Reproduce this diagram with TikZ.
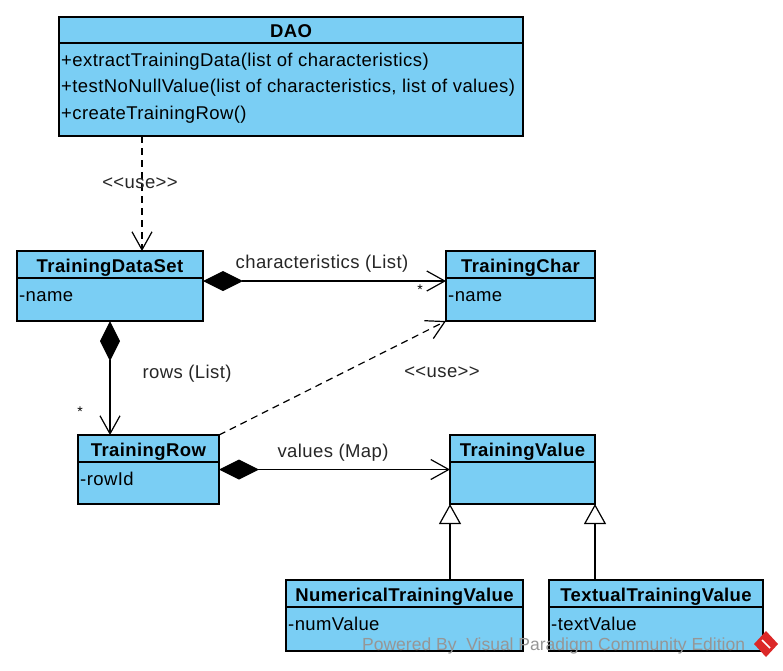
\documentclass[tikz,border=0pt]{standalone}
\usepackage{fontspec}
\setmainfont{Liberation Sans}[LetterSpace=2.2]
\newfontfamily\wmfont{Liberation Sans}
\usetikzlibrary{arrows.meta}
\definecolor{umlblue}{RGB}{122,206,244}
\definecolor{wmgray}{RGB}{150,150,150}
\definecolor{logored}{RGB}{220,40,40}
\newcommand\umlcls[7]{%
  \node[box, minimum width={(#4-#2)*1pt}, minimum height={(#5-#3)*1pt}] (#1) at ({(#2+#4)/2},{(#3+#5)/2}) {};
  \draw[sepline] (#2,#6) -- (#4,#6);
  \node[ttl] (#1-t) at ({(#2+#4)/2},{#6-6}) {#7};
}
\tikzset{
  box/.style={draw=black, line width=1.4pt, fill=umlblue, rectangle, inner sep=0pt, outer sep=0pt},
  sepline/.style={draw=black, line width=1.2pt},
  ttl/.style={anchor=base, inner sep=0pt, font=\bfseries\fontsize{18.5}{22}\selectfont},
  mem/.style={anchor=base west, inner sep=0pt, font=\fontsize{18.5}{22}\selectfont},
  lbl/.style={anchor=base, inner sep=0pt, font=\fontsize{18.5}{22}\selectfont, text=black!85},
  star/.style={inner sep=0pt, font=\fontsize{14}{16}\selectfont},
  comp/.style={line width=1.2pt, {Diamond[length=40pt,width=20pt]}-{Straight Barb[length=18pt,width=20pt]}},
  dep/.style={line width=1.2pt, dash pattern=on 7pt off 5pt, -{Straight Barb[length=18pt,width=20pt]}},
  gen/.style={line width=1.2pt, -{Triangle[open, length=20pt, width=22pt, fill=white]}},
  wm/.style={anchor=base west, inner sep=0pt, font=\wmfont\fontsize{17.5}{20}\selectfont, text=wmgray},
}
\begin{document}
\begin{tikzpicture}[x=1pt,y=-1pt]
\useasboundingbox (0,0) rectangle (783,670);
% classes
\umlcls{dao}{59}{17}{523}{136}{43}{DAO}
\node[mem] (dao-m1) at (61,66) {+extractTrainingData(list of characteristics)};
\node[mem] (dao-m2) at (61,92.5) {+testNoNullValue(list of characteristics, list of values)};
\node[mem] (dao-m3) at (61,119) {+createTrainingRow()};
\umlcls{tds}{17}{251}{203}{321}{278}{TrainingDataSet}
\node[mem] (tds-m1) at (19,301) {-name};
\umlcls{tc}{446}{251}{595}{321}{278}{TrainingChar}
\node[mem] (tc-m1) at (448,301) {-name};
\umlcls{tr}{78}{435}{219}{504}{462}{TrainingRow}
\node[mem] (tr-m1) at (80,485) {-rowId};
\umlcls{tv}{450}{435}{595}{504}{462}{TrainingValue}
\umlcls{num}{286}{580}{523}{651}{607}{NumericalTrainingValue}
\node[mem] (num-m1) at (288,630) {-numValue};
\umlcls{txt}{549}{580}{763}{651}{607}{TextualTrainingValue}
\node[mem] (txt-m1) at (551,630) {-textValue};
% connectors
\draw[dep] ([xshift=83pt]dao.south west) -- ([xshift=125pt]tds.north west);
\draw[comp] ([yshift=5pt]tds.east) -- ([yshift=5pt]tc.west);
\draw[comp] (tds.south) -- (tds.south |- tr.north);
\draw[comp] (tr.east) -- (tv.west);
\draw[dep] (tr.north east) -- (tc.south west);
\draw[gen] (num.north -| tv.south west) -- (tv.south west);
\draw[gen] (txt.north -| tv.south east) -- (tv.south east);
% labels
\node[lbl] (l-use1) at (140,188) {<{}<use>{}>};
\node[lbl] (l-chars) at (322,268) {characteristics (List)};
\node[star] (s-chars) at (420,290) {*};
\node[lbl] (l-rows) at (187,378) {rows (List)};
\node[star] (s-rows) at (80,412) {*};
\node[lbl] (l-use2) at (442,377) {<{}<use>{}>};
\node[lbl] (l-vals) at (333,457) {values (Map)};
% watermark
\node[wm] (wmark) at (362,650) {Powered By\ \ Visual Paradigm Community Edition};
\fill[logored] (766,631) -- (778,644) -- (766,657) -- (754,644) -- cycle;
\draw[white, line width=1.5pt] (762,640) -- (770,648);
\end{tikzpicture}
\end{document}
